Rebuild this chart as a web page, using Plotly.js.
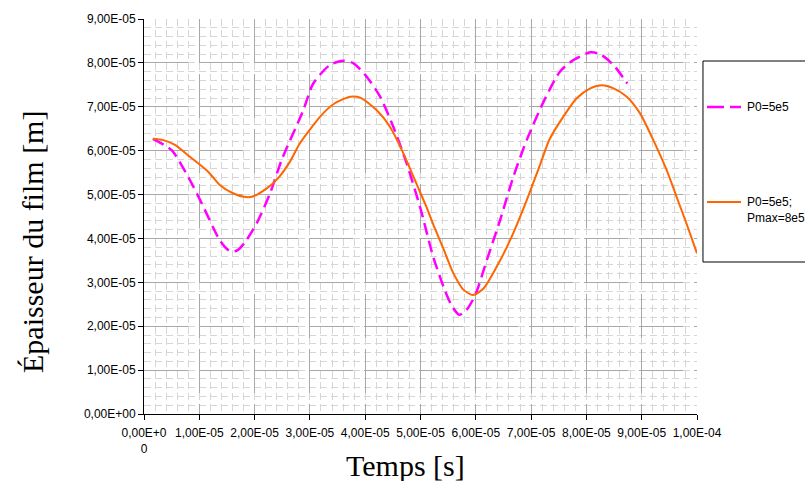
<!DOCTYPE html>
<html>
<head>
<meta charset="utf-8">
<script src="https://cdn.plot.ly/plotly-3.0.1.min.js"></script>
<style>html,body{margin:0;padding:0;background:#fff;}#chart{width:805px;height:481px;}</style>
</head>
<body>
<div id="chart"></div>
<script>
// Values in units of 1e-5 (time in s, thickness in m)
const UNIT = 1e-5;
const timeP0 = [0.16,0.50,0.83,1.04,1.37,1.52,1.61,1.70,1.83,2.04,2.28,2.49,2.88,3.06,3.36,3.60,3.79,4.03,4.27,4.51,4.75,5.00,5.23,5.44,5.56,5.70,5.83,5.99,6.20,6.44,6.68,6.92,7.22,7.52,7.76,8.07,8.25,8.49,8.74];
const filmP0 = [6.27,6.01,5.33,4.81,3.96,3.74,3.70,3.74,3.92,4.35,5.03,5.79,6.92,7.53,7.95,8.05,7.99,7.68,7.23,6.54,5.71,4.68,3.58,2.82,2.48,2.26,2.37,2.71,3.51,4.42,5.41,6.24,7.10,7.80,8.06,8.24,8.20,7.95,7.53];
const timePmax = [0.16,0.35,0.56,0.83,1.16,1.37,1.61,1.80,1.95,2.22,2.43,2.64,2.82,3.21,3.45,3.73,3.91,4.21,4.45,4.69,4.95,5.10,5.23,5.41,5.59,5.77,5.95,6.14,6.38,6.62,6.92,7.16,7.33,7.58,7.82,8.07,8.28,8.49,8.73,8.97,9.21,9.45,9.63,9.81,10.00];
const filmPmax = [6.27,6.24,6.13,5.86,5.52,5.22,5.03,4.95,4.95,5.14,5.38,5.75,6.17,6.81,7.08,7.23,7.21,6.92,6.54,5.94,5.18,4.74,4.32,3.78,3.22,2.84,2.71,2.86,3.36,3.96,4.87,5.67,6.25,6.77,7.19,7.42,7.49,7.42,7.23,6.85,6.24,5.56,4.95,4.34,3.66];

const seriesNames = ["P0=5e5", "P0=5e5;<br>Pmax=8e5"];
const xTickVals = [0,1,2,3,4,5,6,7,8,9,10];
const xTickText = ["0,00E+0<br>0","1,00E-05","2,00E-05","3,00E-05","4,00E-05","5,00E-05","6,00E-05","7,00E-05","8,00E-05","9,00E-05","1,00E-04"];
const yTickVals = [0,1,2,3,4,5,6,7,8,9];
const yTickText = ["0,00E+00","1,00E-05","2,00E-05","3,00E-05","4,00E-05","5,00E-05","6,00E-05","7,00E-05","8,00E-05","9,00E-05"];
const xTitle = "Temps [s]";
const yTitle = "Épaisseur du film [m]";

const sc = a => a.map(v => v * UNIT);

const traces = [
  {x: sc(timeP0), y: sc(filmP0), type: 'scatter', mode: 'lines', name: seriesNames[0],
   line: {color: '#FF00FF', width: 2.5, dash: '12px,6px', shape: 'spline', smoothing: 0.7}, showlegend: false},
  {x: sc(timePmax), y: sc(filmPmax), type: 'scatter', mode: 'lines', name: seriesNames[1],
   line: {color: '#FF6600', width: 2, shape: 'spline', smoothing: 0.7}, showlegend: false}
];

const tickFont = {family: 'Liberation Sans, Arial, sans-serif', size: 12, color: '#000'};
const axisCommon = {
  showline: true, linecolor: '#000', linewidth: 1,
  ticks: 'outside', ticklen: 5, tickcolor: '#000', tickwidth: 1,
  showgrid: true, gridcolor: '#a8a8a8', gridwidth: 1, griddash: '44px,11px',
  zeroline: false, tickfont: tickFont, tickmode: 'array',
  minor: {dtick: 0.2 * UNIT, showgrid: true, gridcolor: '#d6d6d6', gridwidth: 1, griddash: '7px,4px', ticks: ''}
};

const layout = {
  width: 805, height: 481,
  margin: {l: 144, r: 108, t: 19, b: 67},
  paper_bgcolor: '#fff', plot_bgcolor: '#fff',
  showlegend: false,
  xaxis: Object.assign({}, axisCommon, {
    range: [0, 10 * UNIT], tickvals: sc(xTickVals), ticktext: xTickText, ticklabelstandoff: 3
  }),
  yaxis: Object.assign({}, axisCommon, {
    range: [0, 9 * UNIT], tickvals: sc(yTickVals), ticktext: yTickText
  }),
  shapes: [
    {type: 'rect', xref: 'paper', yref: 'paper', x0: 1.0108, x1: 1.2, y0: (414-262)/395, y1: (414-61)/395,
     line: {color: '#000', width: 1}, fillcolor: 'rgba(0,0,0,0)'},
    {type: 'line', xref: 'paper', yref: 'paper', x0: (707-144)/553, x1: (741-144)/553,
     y0: (414-107)/395, y1: (414-107)/395, line: {color: '#FF00FF', width: 2.5, dash: '17px,6px'}},
    {type: 'line', xref: 'paper', yref: 'paper', x0: (707-144)/553, x1: (741-144)/553,
     y0: (414-202)/395, y1: (414-202)/395, line: {color: '#FF6600', width: 2}}
  ],
  annotations: [
    {text: seriesNames[0], xref: 'paper', yref: 'paper', x: (745-144)/553, y: (414-107)/395,
     xanchor: 'left', yanchor: 'middle', showarrow: false, align: 'left',
     font: {family: 'Liberation Sans, Arial, sans-serif', size: 12, color: '#000'}},
    {text: seriesNames[1], xref: 'paper', yref: 'paper', x: (745-144)/553, y: (414-210)/395,
     xanchor: 'left', yanchor: 'middle', showarrow: false, align: 'left',
     font: {family: 'Liberation Sans, Arial, sans-serif', size: 12, color: '#000'}},
    {text: xTitle, xref: 'paper', yref: 'paper', x: (405-144)/553, y: (414-465)/395,
     xanchor: 'center', yanchor: 'middle', showarrow: false,
     font: {family: 'Liberation Serif, Times New Roman, serif', size: 30, color: '#000'}},
    {text: yTitle, xref: 'paper', yref: 'paper', x: (32-144)/553, y: (414-242)/395,
     xanchor: 'center', yanchor: 'middle', showarrow: false, textangle: -90,
     font: {family: 'Liberation Serif, Times New Roman, serif', size: 30, color: '#000'}}
  ]
};

Plotly.newPlot('chart', traces, layout, {displayModeBar: false, staticPlot: true});
</script>
</body>
</html>
